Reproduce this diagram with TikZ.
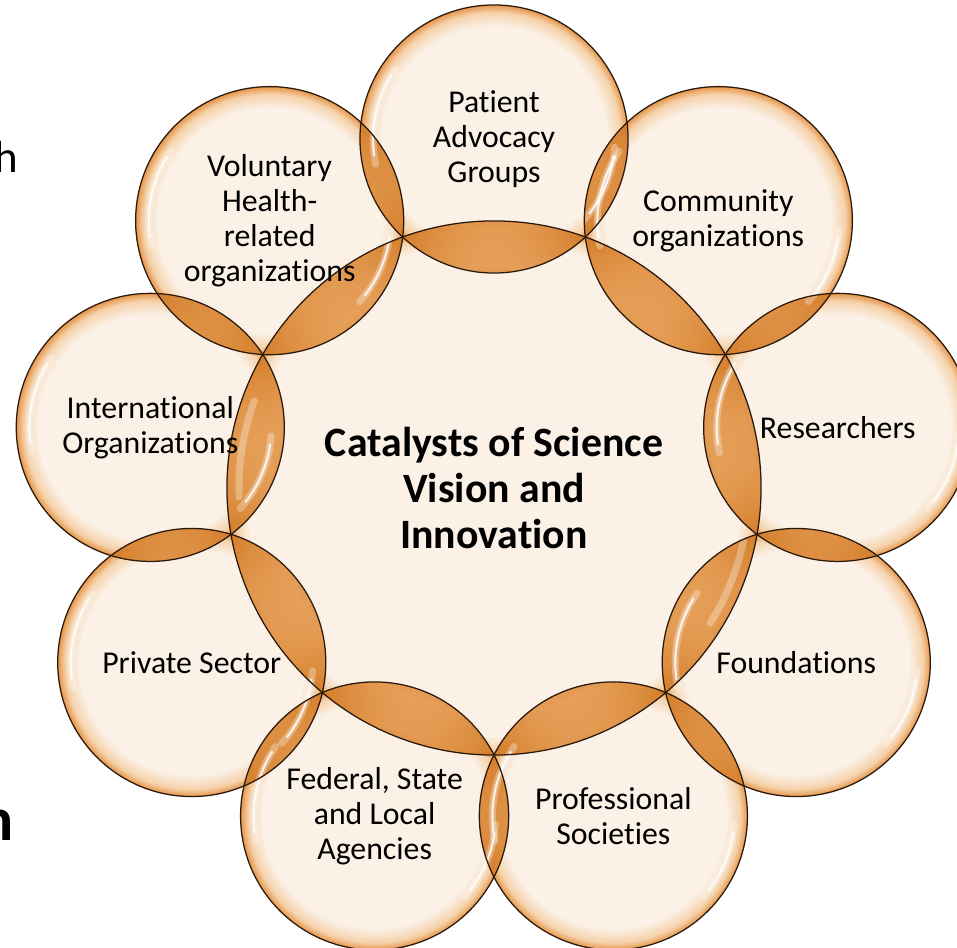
\documentclass[tikz,border=0pt]{standalone}
\usepackage{fontspec}
\setmainfont{Carlito}[Ligatures=NoCommon]
\usepackage{tikz}
\usetikzlibrary{backgrounds}
\definecolor{BubbleCream}{HTML}{FBF1E7}
\definecolor{BubbleMid}{HTML}{F5D2AB}
\definecolor{BubbleRim}{HTML}{E6964A}
\definecolor{LensLight}{HTML}{F0B273}
\definecolor{LensDark}{HTML}{D47E2A}
\definecolor{BubbleLine}{HTML}{2B1A0C}

% bubble fills: cream inside, thin orange rim
\pgfdeclareradialshading{bubbleSpoke}{\pgfpoint{0bp}{0bp}}{color(0bp)=(BubbleCream); color(21bp)=(BubbleCream); color(23.6bp)=(BubbleMid); color(25bp)=(BubbleRim); color(50bp)=(BubbleRim)}
\pgfdeclareradialshading{bubbleHub}{\pgfpoint{0bp}{0bp}}{color(0bp)=(BubbleCream); color(23.2bp)=(BubbleCream); color(24.4bp)=(BubbleMid); color(25bp)=(BubbleRim); color(50bp)=(BubbleRim)}
% overlap fills
\pgfdeclareradialshading{lensSpoke}{\pgfpoint{0bp}{0bp}}{color(0bp)=(LensLight); color(17bp)=(LensLight); color(25bp)=(LensDark); color(50bp)=(LensDark)}
\pgfdeclareradialshading{lensHub}{\pgfpoint{0bp}{0bp}}{color(0bp)=(LensLight); color(21bp)=(LensLight); color(25bp)=(LensDark); color(50bp)=(LensDark)}

\begin{document}
\begin{tikzpicture}[
  x=0.025cm, y=0.025cm,
  ring/.style={circle, draw=BubbleLine, line width=0.9pt, inner sep=0pt, align=center},
  spoke/.style={ring, minimum size=6.7cm, font=\fontsize{22.6}{24.8}\selectfont},
  hubnode/.style={ring, minimum size=13.35cm, font=\fontsize{29.7}{33}\selectfont\bfseries},
  glare/.style={white, line cap=round},
  cut/.style={inner sep=0pt, anchor=base east}
]
  \useasboundingbox (-494,-459) rectangle (463,488);

  \node[hubnode] (hub) at (0,0) {Catalysts of Science\\Vision and\\Innovation};

  \node[spoke] (patient) at (90:349) {Patient\\Advocacy\\Groups};
  \node[spoke] (community) at (50:349) {Community\\organizations};
  \node[spoke] (researchers) at (10:349) {Researchers};
  \node[spoke] (foundations) at (-30:349) {Foundations};
  \node[spoke] (societies) at (-70:349) {Professional\\Societies};
  \node[spoke] (agencies) at (-110:349) {Federal, State\\and Local\\Agencies};
  \node[spoke] (private) at (-150:349) {Private Sector};
  \node[spoke] (intl) at (170:349) {International\\Organizations};
  \node[spoke] (voluntary) at (130:349) {Voluntary\\Health-\\related\\organizations};

  % letters of the slide text cut off at the left edge
  \node[cut, font=\fontsize{32}{38}\selectfont] (hcut) at (-476,315) {h};
  \node[cut, font=\fontsize{44}{50}\selectfont\bfseries] (ncut) at (-480,-352) {n};

  \begin{pgfonlayer}{background}
    \shade[shading=bubbleHub] (hub.center) circle (267);
    \foreach \nm in {patient,community,researchers,foundations,societies,agencies,private,intl,voluntary}
      \shade[shading=bubbleSpoke] (\nm.center) circle (134);

    % overlaps with the hub
    \foreach \nm in {patient,community,researchers,foundations,societies,agencies,private,intl,voluntary} {
      \begin{scope}
        \clip (hub.center) circle (267);
        \shade[shading=lensSpoke] (\nm.center) circle (134);
      \end{scope}
      \begin{scope}
        \clip (\nm.center) circle (134);
        \shade[shading=lensHub, fill opacity=.55] (hub.center) circle (267);
      \end{scope}
    }
    % overlaps of neighbours
    \foreach \a/\b in {patient/community,community/researchers,researchers/foundations,foundations/societies,societies/agencies,agencies/private,private/intl,intl/voluntary,voluntary/patient} {
      \begin{scope}
        \clip (\a.center) circle (134);
        \shade[shading=lensSpoke] (\b.center) circle (134);
      \end{scope}
      \begin{scope}
        \clip (\b.center) circle (134);
        \shade[shading=lensSpoke, fill opacity=.55] (\a.center) circle (134);
      \end{scope}
    }

    % glare
    \foreach \nm in {patient,community,researchers,foundations,societies,agencies,private,intl,voluntary} {
      \begin{scope}[shift={(\nm.center)}]
        \draw[glare, line width=5pt, opacity=.3] (145:121) arc[start angle=145, end angle=192, radius=121];
        \draw[glare, line width=1.6pt, opacity=.8] (148:121) arc[start angle=148, end angle=188, radius=121];
        \draw[glare, line width=5pt, opacity=.3] (-42:121) arc[start angle=-42, end angle=-4, radius=121];
        \draw[glare, line width=1.6pt, opacity=.8] (-38:121) arc[start angle=-38, end angle=-8, radius=121];
      \end{scope}
    }
    \draw[glare, line width=5pt, opacity=.3] (-32:255) arc[start angle=-32, end angle=-12, radius=255];
    \draw[glare, line width=5pt, opacity=.3] (160:255) arc[start angle=160, end angle=182, radius=255];
  \end{pgfonlayer}
\end{tikzpicture}
\end{document}
